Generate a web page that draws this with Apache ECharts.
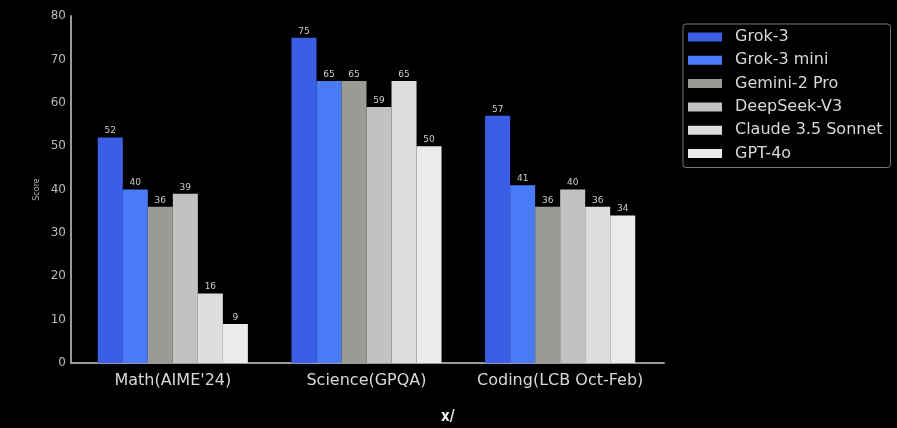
<!DOCTYPE html>
<html><head><meta charset="utf-8">
<script src="https://cdn.jsdelivr.net/npm/echarts@6/dist/echarts.min.js"></script>
<style>html,body{margin:0;padding:0;background:#000;}#c{width:897px;height:428px;}</style>
</head><body><div id="c"></div>
<script>
const categories = ["Math(AIME'24)", "Science(GPQA)", "Coding(LCB Oct-Feb)"];
const modelNames = ["Grok-3", "Grok-3 mini", "Gemini-2 Pro", "DeepSeek-V3", "Claude 3.5 Sonnet", "GPT-4o"];
const grok3 = [52, 75, 57];
const grok3mini = [40, 65, 41];
const gemini2pro = [36, 65, 36];
const deepseekv3 = [39, 59, 40];
const claude35 = [16, 65, 36];
const gpt4o = [9, 50, 34];
const yTicks = [0, 10, 20, 30, 40, 50, 60, 70, 80];

const colors = ["#3a5fe6", "#4a7bf7", "#9a9a97", "#c2c3c1", "#dcdedb", "#e9ece9"];
const values = [grok3, grok3mini, gemini2pro, deepseekv3, claude35, gpt4o];

const chart = echarts.init(document.getElementById('c'));
chart.setOption({
  backgroundColor: '#000',
  animation: false,
  grid: [
    {left: 71, right: 233, top: 16, bottom: 65},
    {left: 76, right: 240, top: 16, bottom: 65}
  ],
  legend: {
    orient: 'vertical', left: 683, top: 24,
    itemWidth: 34, itemHeight: 9, itemGap: 7.3,
    padding: [5, 8, 6, 5],
    borderColor: '#777', borderWidth: 1, borderRadius: 3,
    textStyle: {color: '#d8d8d8', fontSize: 16, fontFamily: 'DejaVu Sans', padding: [0, 0, 0, 8]},
    itemStyle: {borderWidth: 0},
    data: modelNames.map(n => ({name: n, icon: 'rect'}))
  },
  xAxis: [
    {
      gridIndex: 0, type: 'category', data: [''],
      axisLine: {lineStyle: {color: '#999', width: 2}},
      axisTick: {show: false}, axisLabel: {show: false}
    },
    {
      gridIndex: 1, type: 'category', data: categories,
      axisLine: {show: false},
      axisTick: {show: false},
      axisLabel: {color: '#d8d8d8', fontSize: 16, fontFamily: 'DejaVu Sans', margin: 10, interval: 0, hideOverlap: false}
    }
  ],
  yAxis: [
    {
      gridIndex: 0, type: 'value', min: 0, max: 80, interval: 10,
      name: 'Score', nameLocation: 'middle', nameGap: 30, nameRotate: 90, nameMoveOverlap: false,
      nameTextStyle: {color: '#aaa', fontSize: 8, fontFamily: 'DejaVu Sans'},
      axisLine: {show: true, lineStyle: {color: '#999', width: 2}},
      axisTick: {show: false},
      splitLine: {show: false},
      axisLabel: {color: '#bbb', fontSize: 12, fontFamily: 'DejaVu Sans', margin: 5,
        formatter: v => yTicks.includes(v) ? String(v) : ''}
    },
    {
      gridIndex: 1, type: 'value', min: 0, max: 80, interval: 10,
      axisLine: {show: false}, axisTick: {show: false}, axisLabel: {show: false}, splitLine: {show: false}
    }
  ],
  series: modelNames.map((n, i) => ({
    name: n, type: 'bar', data: values[i], xAxisIndex: 1, yAxisIndex: 1,
    barGap: '0%', barCategoryGap: '22.5%',
    itemStyle: {color: colors[i]},
    label: {show: true, position: 'top', distance: 2, color: '#ccc', fontSize: 9, fontFamily: 'DejaVu Sans'}
  })),
  graphic: [{
    type: 'text', left: 441, top: 410,
    style: {text: 'x/', fill: '#eee', font: 'bold 15px DejaVu Sans Condensed'}
  }]
});
</script></body></html>
